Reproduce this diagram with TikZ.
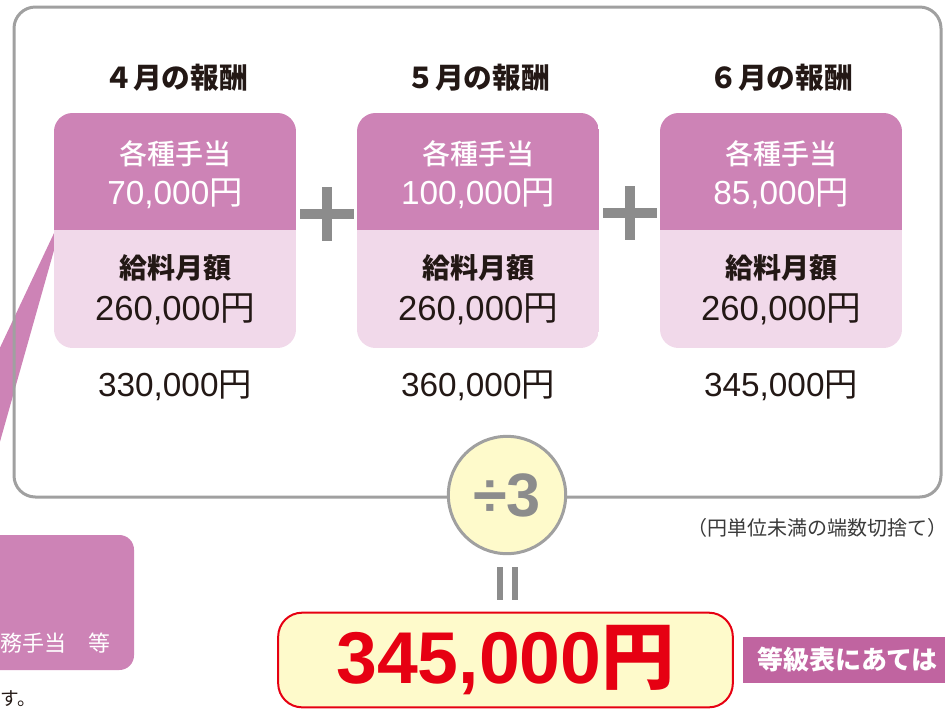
\documentclass[tikz,border=0pt]{standalone}
\usepackage{fontspec}
\setmainfont{Liberation Sans}
\newfontfamily\jp{Noto Sans CJK JP}
\newfontfamily\jpm{Noto Sans CJK JP Medium}
\definecolor{cardtop}{HTML}{CD83B6}
\definecolor{cardbot}{HTML}{F1D9EA}
\definecolor{tagpurple}{HTML}{C064A0}
\definecolor{framegray}{HTML}{A0A0A0}
\definecolor{opgray}{HTML}{8C8C8C}
\definecolor{paleyellow}{HTML}{FEFACB}
\definecolor{resred}{HTML}{E60012}
\definecolor{ink}{HTML}{231815}
\definecolor{notegray}{HTML}{3A3A3A}
\tikzset{
  txt/.style={inner sep=0pt, outer sep=0pt},
  headtxt/.style={txt, text=ink, font=\bfseries\fontsize{21.5pt}{21.5pt}\selectfont\jp},
  allowlabel/.style={txt, text=white, font=\fontsize{21pt}{21pt}\selectfont\jpm},
  allowval/.style={txt, text=white, font=\fontsize{25pt}{25pt}\selectfont},
  baselabel/.style={txt, text=ink, font=\bfseries\fontsize{21pt}{21pt}\selectfont\jp},
  baseval/.style={txt, text=ink, font=\fontsize{26pt}{26pt}\selectfont},
  totalval/.style={txt, text=ink, font=\fontsize{25pt}{25pt}\selectfont},
}
\newcommand\cardshape[1]{%
  \begin{scope}
    \clip[rounded corners=14pt] (#1-121,113) rectangle (#1+121,348);
    \fill[cardbot] (#1-121,113) rectangle (#1+121,348);
    \fill[cardtop] (#1-121,113) rectangle (#1+121,230);
  \end{scope}}
\begin{document}
\begin{tikzpicture}[x=0.75pt,y=-0.75pt]
\useasboundingbox (0,0) rectangle (945,708);
% callout wedge and box (partly outside the picture)
\fill[cardtop] (55,231) -- (60,229) -- (-8,470) -- (-20,390) -- cycle;
\fill[cardtop, rounded corners=11pt] (-60,535) rectangle (134,670);
\node[txt, text=white, font=\fontsize{16.5pt}{16.5pt}\selectfont\jp, anchor=east] (callouttxt) at (110,643) {務手当　等};
\node[txt, text=ink, font=\fontsize{14pt}{14pt}\selectfont\jp, anchor=west] (notetail) at (1,699) {す。};
% outer frame
\draw[framegray, line width=2.25pt, rounded corners=16pt] (14,7) rectangle (941,497);
% cards
\cardshape{175}
\cardshape{478}
\cardshape{781}
% plus signs
\fill[opgray] (300,209) rectangle (354,219);
\fill[opgray] (322,187) rectangle (332,241);
\fill[opgray] (603,208) rectangle (657,218);
\fill[opgray] (625,186) rectangle (635,240);
% headings
\node[headtxt] (h1) at (176,78) {４月の報酬};
\node[headtxt] (h2) at (478,78) {５月の報酬};
\node[headtxt] (h3) at (781,78) {６月の報酬};
% card texts
\node[allowlabel] (a1) at (175,154) {各種手当};
\node[allowlabel] (a2) at (478,154) {各種手当};
\node[allowlabel] (a3) at (781,154) {各種手当};
\node[allowval] (v1) at (175,194) {70,000{\jp 円}};
\node[allowval] (v2) at (478,194) {100,000{\jp 円}};
\node[allowval] (v3) at (781,194) {85,000{\jp 円}};
\node[baselabel] (b1) at (175,268) {給料月額};
\node[baselabel] (b2) at (478,268) {給料月額};
\node[baselabel] (b3) at (781,268) {給料月額};
\node[baseval] (s1) at (175,309) {260,000{\jp 円}};
\node[baseval] (s2) at (478,309) {260,000{\jp 円}};
\node[baseval] (s3) at (781,309) {260,000{\jp 円}};
% totals
\node[totalval] (t1) at (175,386) {330,000{\jp 円}};
\node[totalval] (t2) at (478,386) {360,000{\jp 円}};
\node[totalval] (t3) at (781,386) {345,000{\jp 円}};
% divide circle
\node[circle, draw=framegray, fill=paleyellow, line width=2.25pt, minimum size=88pt, inner sep=0pt,
      text=opgray, font=\bfseries\fontsize{46pt}{46pt}\selectfont] (div) at (507,495) {÷3};
\node[txt, text=notegray, font=\fontsize{15pt}{15pt}\selectfont\jp] (note) at (817,528) {（円単位未満の端数切捨て）};
% equals sign (vertical)
\fill[opgray] (497,567) rectangle (503,600);
\fill[opgray] (512,567) rectangle (518,600);
% result
\node[draw=resred, fill=paleyellow, line width=1.5pt, rounded corners=18pt, minimum width=341pt, minimum height=71pt,
      text=resred, font=\bfseries\fontsize{55pt}{55pt}\selectfont] (result) at (505.5,660) {345,000{\jp 円}};
% tag
\fill[tagpurple] (743,637) rectangle (960,683);
\node[txt, text=white, font=\bfseries\fontsize{19.5pt}{19.5pt}\selectfont\jp, anchor=west] (tag) at (757,660) {等級表にあては};
\end{tikzpicture}
\end{document}
